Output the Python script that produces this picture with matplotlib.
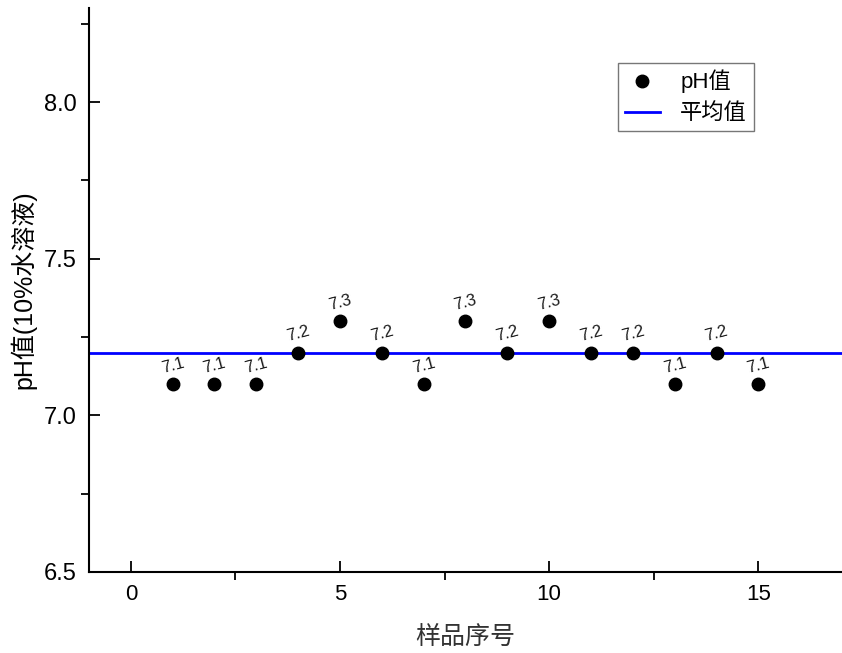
import matplotlib
matplotlib.use("Agg")
import matplotlib.pyplot as plt
from matplotlib.ticker import MultipleLocator

samples = [1, 2, 3, 4, 5, 6, 7, 8, 9, 10, 11, 12, 13, 14, 15]
ph_values = [7.1, 7.1, 7.1, 7.2, 7.3, 7.2, 7.1, 7.3, 7.2, 7.3, 7.2, 7.2, 7.1, 7.2, 7.1]
mean_value = 7.2
x_ticks = [0, 5, 10, 15]
y_ticks = [6.5, 7.0, 7.5, 8.0]

plt.rcParams['font.family'] = ['Liberation Sans', 'Noto Sans CJK SC', 'DejaVu Sans']

fig = plt.figure(figsize=(8.42, 6.53), dpi=100)
ax = fig.add_axes([89/842, 81/653, 1 - 89/842, (572 - 8)/653])

ax.axhline(mean_value, color='#0000ff', lw=2.0, label='平均值', zorder=2)
ax.plot(samples, ph_values, 'o', color='black', markersize=9, label='pH值', zorder=3)

for x, y in zip(samples, ph_values):
    ax.annotate(f"{y:.1f}", (x, y), xytext=(0, 13.5), textcoords='offset points',
                ha='center', va='center', rotation=15, fontsize=12, color='#1a1a1a')

ax.set_xlim(-1, 17)
ax.set_ylim(6.5, 8.3)
ax.set_xticks(x_ticks)
ax.set_yticks(y_ticks)
ax.set_yticklabels([f"{v:.1f}" for v in y_ticks])
ax.xaxis.set_minor_locator(MultipleLocator(2.5))
ax.yaxis.set_minor_locator(MultipleLocator(0.25))

for s in ['top', 'right']:
    ax.spines[s].set_visible(False)
for s in ['left', 'bottom']:
    ax.spines[s].set_linewidth(1.5)

ax.tick_params(which='major', direction='in', length=8, width=1.3, labelsize=17, pad=9)
ax.tick_params(axis='x', which='major', labelsize=16)
ax.tick_params(which='minor', direction='out', length=6, width=1.3)

ax.set_xlabel('样品序号', fontsize=18, color='#333333', labelpad=14)
ax.set_ylabel('pH值(10%水溶液)', fontsize=18, labelpad=5)

handles, labels = ax.get_legend_handles_labels()
leg = ax.legend(handles[::-1], labels[::-1], loc='upper left',
                bbox_to_anchor=((618 - 89) / (842 - 89), (572 - 63) / (572 - 8)),
                fontsize=16, frameon=True, fancybox=False, edgecolor='#555555',
                handlelength=1.6, handletextpad=0.9, borderpad=0.3, labelspacing=0.45,
                borderaxespad=0)
leg.get_frame().set_linewidth(1.0)

fig.savefig('out.png', dpi=100)
